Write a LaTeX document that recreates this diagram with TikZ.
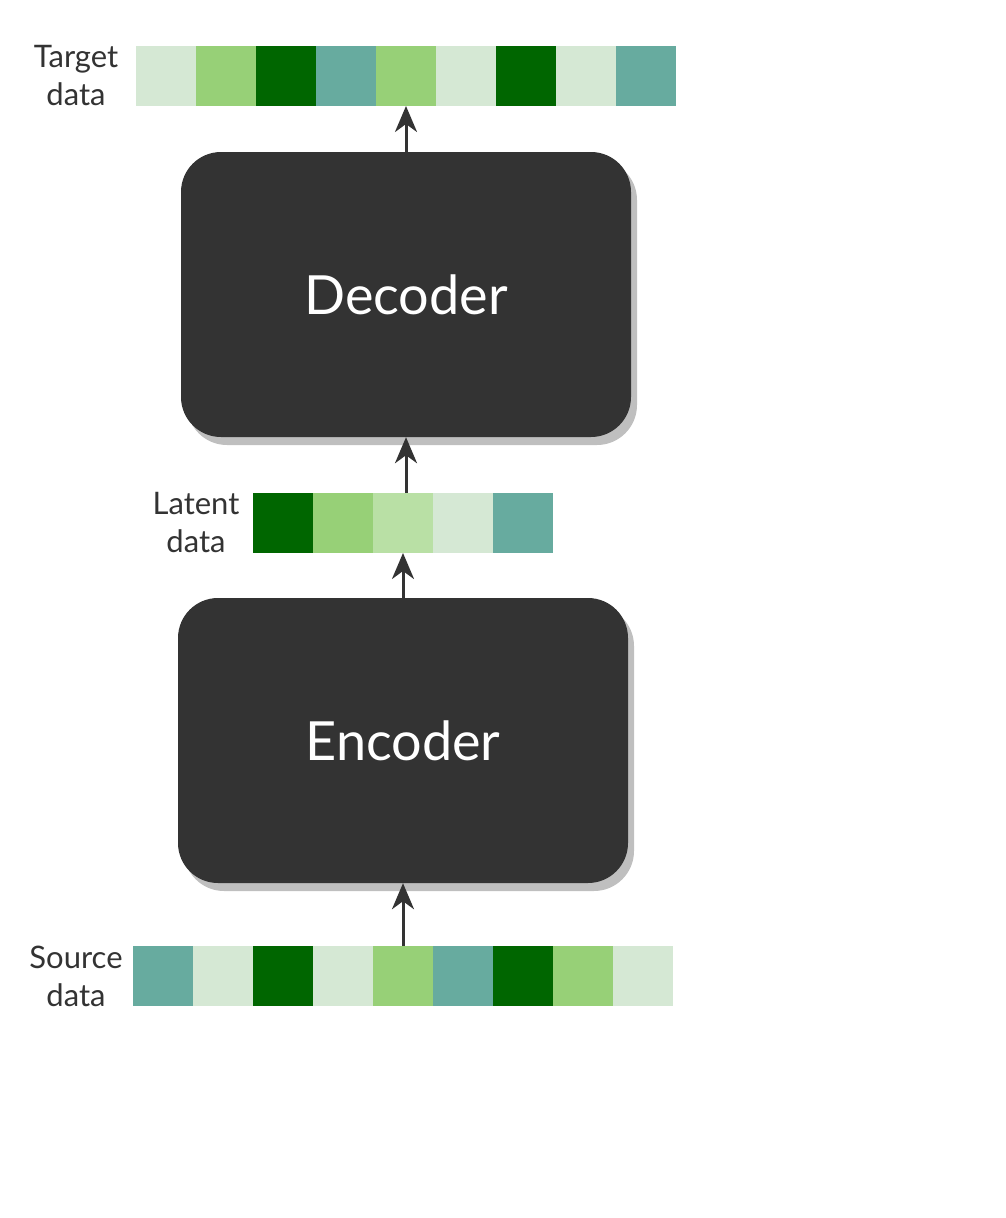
\documentclass[tikz,border=0pt]{standalone}
\usepackage{fontspec}
\setmainfont{Lato}
\usetikzlibrary{positioning,shadows,arrows.meta}

\definecolor{palecell}{HTML}{D5E8D4}
\definecolor{midcell}{HTML}{97D077}
\definecolor{darkcell}{HTML}{006600}
\definecolor{sagecell}{HTML}{67AB9F}
\definecolor{softcell}{HTML}{B9E0A5}
\definecolor{boxgray}{HTML}{333333}
\definecolor{inkgray}{HTML}{333333}

\tikzset{
  cell/.style={minimum size=60pt, inner sep=0pt, outer sep=0pt},
  coder/.style={rounded corners=40pt, fill=boxgray, minimum width=450pt, minimum height=285pt,
    text=white, font=\fontsize{54}{64}\selectfont,
    drop shadow={shadow xshift=6pt, shadow yshift=-8pt, fill=black!25, opacity=1}},
  tag/.style={align=center, text=inkgray, font=\fontsize{31}{38}\selectfont},
  flow/.style={-{Stealth[length=26pt,width=22pt,inset=8pt]}, line width=3pt, draw=inkgray}
}

\begin{document}
\begin{tikzpicture}[x=1pt,y=-1pt]
	\useasboundingbox (0,0) rectangle (1005,1218);

	% target row
	\foreach \c [count=\i] in {palecell,midcell,darkcell,sagecell,midcell,palecell,darkcell,palecell,sagecell}
		\node[cell,fill=\c] (t\i) at ({106+60*\i},76) {};
	\node[tag] (target) at (76,76) {Target\\data};

	% latent row
	\foreach \c [count=\i] in {darkcell,midcell,softcell,palecell,sagecell}
		\node[cell,fill=\c] (l\i) at ({223+60*\i},523) {};
	\node[tag] (latent) at (196,523) {Latent\\data};

	% source row
	\foreach \c [count=\i] in {sagecell,palecell,darkcell,palecell,midcell,sagecell,darkcell,midcell,palecell}
		\node[cell,fill=\c] (s\i) at ({103+60*\i},976) {};
	\node[tag] (source) at (76,976) {Source\\data};

	\node[coder] (dec) at (406,294.5) {Decoder};
	\node[coder] (enc) at (403,740.5) {Encoder};

	\draw[flow] (dec.north) -- (t5.south);
	\draw[flow] (l3.north -| dec.south) -- (dec.south);
	\draw[flow] (enc.north) -- (l3.south);
	\draw[flow] (s5.north) -- (enc.south);
\end{tikzpicture}
\end{document}
